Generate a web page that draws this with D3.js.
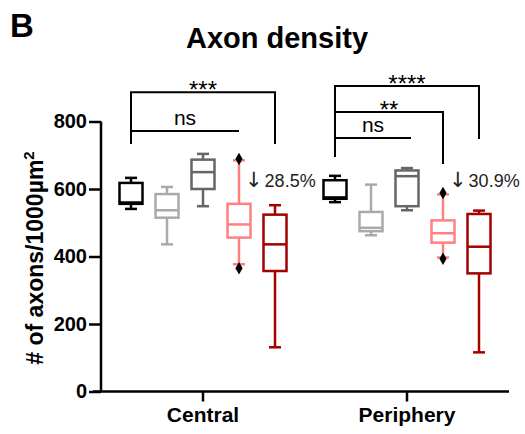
<!DOCTYPE html>
<html>
<head>
<meta charset="utf-8">
<script src="https://cdn.jsdelivr.net/npm/d3@7"></script>
<style>
  body { margin: 0; background: #fff; }
  text { font-family: "Liberation Sans", Arial, sans-serif; }
</style>
</head>
<body>
<svg id="chart" width="525" height="434"></svg>
<script>
// regions on the x axis, five conditions per region
const regions = ["Central", "Periphery"];
const conditions = ["c1", "c2", "c3", "c4", "c5"];
const colors = ["#000000", "#aaaaaa", "#666666", "#ff8080", "#a30000"];

// box values, [Central, Periphery] per condition
const whiskerLow  = [[541, 561], [436, 463], [549, 537], [377, 397], [131, 116]];
const q1          = [[556, 571], [515, 475], [600, 549], [456, 441], [357, 350]];
const median      = [[560, 575], [537, 485], [650, 638], [495, 469], [436, 429]];
const q3          = [[618, 626], [585, 532], [687, 655], [556, 507], [524, 526]];
const whiskerHigh = [[633, 639], [606, 613], [704, 662], [685, 584], [552, 536]];
// points drawn as diamonds (condition c4 only)
const outliers = [
  {region: "Central", cond: "c4", value: 689},
  {region: "Central", cond: "c4", value: 365},
  {region: "Periphery", cond: "c4", value: 588},
  {region: "Periphery", cond: "c4", value: 393}
];

const yTicks = [0, 200, 400, 600, 800];

// significance brackets: from c1 to another condition
const brackets = [
  {region: "Central", to: "c5", label: "***", level: 887, legFrom: 733, legTo: 733},
  {region: "Central", to: "c4", label: "ns", level: 772, legFrom: 733, legTo: null},
  {region: "Periphery", to: "c5", label: "****", level: 905, legFrom: 695, legTo: 748},
  {region: "Periphery", to: "c4", label: "**", level: 828, legFrom: 695, legTo: 674},
  {region: "Periphery", to: "c3", label: "ns", level: 751, legFrom: 695, legTo: null, extra: 4}
];
const changes = [
  {region: "Central", label: "28.5%", value: 606},
  {region: "Periphery", label: "30.9%", value: 606}
];

const svg = d3.select("#chart");

const x = d3.scaleBand().domain(regions).range([101, 509]);
const xi = d3.scaleBand().domain(conditions).range([-90, 90]);
const y = d3.scaleLinear().domain([0, 800]).range([391.5, 121.5]);
const boxW = 23;

function cx(region, cond) {
  return x(region) + x.bandwidth() / 2 + xi(cond) + xi.bandwidth() / 2;
}

// axes
const yAxis = svg.append("g")
  .attr("transform", "translate(101,0)")
  .call(d3.axisLeft(y).tickValues(yTicks).tickSize(12).tickPadding(2).tickFormat(d3.format("d")));
yAxis.select(".domain").attr("stroke-width", 2.5).attr("d", "M0," + y(800) + "V" + y(0));
yAxis.selectAll(".tick line").attr("stroke-width", 2.5);
yAxis.selectAll(".tick text")
  .style("font-family", "Liberation Sans, Arial, sans-serif")
  .style("font-size", "20px").style("font-weight", "bold").attr("fill", "#000");

const xAxis = svg.append("g")
  .attr("transform", "translate(0," + y(0) + ")")
  .call(d3.axisBottom(x).tickSize(10).tickPadding(6));
xAxis.select(".domain").attr("stroke-width", 2.5).attr("d", "M93,0H509");
xAxis.selectAll(".tick line").attr("stroke-width", 2.5);
xAxis.selectAll(".tick text")
  .style("font-family", "Liberation Sans, Arial, sans-serif")
  .style("font-size", "21px").style("font-weight", "bold").attr("fill", "#000");

// box plots
const boxes = [];
regions.forEach(function(r, ri) {
  conditions.forEach(function(c, ci) {
    boxes.push({region: r, cond: c, color: colors[ci],
      lo: whiskerLow[ci][ri], q1: q1[ci][ri], med: median[ci][ri],
      q3: q3[ci][ri], hi: whiskerHigh[ci][ri]});
  });
});

const g = svg.selectAll("g.box").data(boxes).enter().append("g")
  .attr("class", "box")
  .attr("stroke", function(d) { return d.color; })
  .attr("stroke-width", 2.5)
  .attr("fill", "none");

g.append("line")
  .attr("x1", function(d) { return cx(d.region, d.cond); })
  .attr("x2", function(d) { return cx(d.region, d.cond); })
  .attr("y1", function(d) { return y(d.hi); })
  .attr("y2", function(d) { return y(d.q3); });
g.append("line")
  .attr("x1", function(d) { return cx(d.region, d.cond); })
  .attr("x2", function(d) { return cx(d.region, d.cond); })
  .attr("y1", function(d) { return y(d.q1); })
  .attr("y2", function(d) { return y(d.lo); });
g.selectAll("line.cap").data(function(d) { return [d.hi, d.lo].map(function(v) { return {d: d, v: v}; }); })
  .enter().append("line").attr("class", "cap")
  .attr("x1", function(e) { return cx(e.d.region, e.d.cond) - 6; })
  .attr("x2", function(e) { return cx(e.d.region, e.d.cond) + 6; })
  .attr("y1", function(e) { return y(e.v); })
  .attr("y2", function(e) { return y(e.v); });
g.append("rect")
  .attr("x", function(d) { return cx(d.region, d.cond) - boxW / 2; })
  .attr("width", boxW)
  .attr("y", function(d) { return y(d.q3); })
  .attr("height", function(d) { return y(d.q1) - y(d.q3); })
  .attr("fill", "#fff");
g.append("line")
  .attr("x1", function(d) { return cx(d.region, d.cond) - boxW / 2; })
  .attr("x2", function(d) { return cx(d.region, d.cond) + boxW / 2; })
  .attr("y1", function(d) { return y(d.med); })
  .attr("y2", function(d) { return y(d.med); });

svg.selectAll("path.out").data(outliers).enter().append("path")
  .attr("class", "out")
  .attr("d", d3.symbol().type(d3.symbolDiamond).size(45))
  .attr("transform", function(d) { return "translate(" + cx(d.region, d.cond) + "," + y(d.value) + ")"; })
  .attr("fill", "#000");

// brackets
const br = svg.selectAll("g.bracket").data(brackets).enter().append("g").attr("class", "bracket");
br.append("path")
  .attr("fill", "none").attr("stroke", "#000").attr("stroke-width", 2)
  .attr("d", function(d) {
    const x0 = cx(d.region, "c1"), x1 = cx(d.region, d.to) + (d.extra || 0);
    let p = "M" + x0 + "," + y(d.legFrom) + "V" + y(d.level) + "H" + x1;
    if (d.legTo !== null) p += "V" + y(d.legTo);
    return p;
  });
br.append("text")
  .attr("x", function(d) { return (cx(d.region, "c1") + cx(d.region, d.to) + (d.extra || 0)) / 2; })
  .attr("y", function(d) { return d.label === "ns" ? y(d.level) - 6 : y(d.level) + 6; })
  .attr("text-anchor", "middle")
  .style("font-size", function(d) { return d.label === "ns" ? "21px" : "24px"; })
  .text(function(d) { return d.label; });

const chg = svg.selectAll("text.chg").data(changes).enter().append("text")
  .attr("class", "chg")
  .attr("x", function(d) { return cx(d.region, "c4") + 6; })
  .attr("y", function(d) { return y(d.value); })
  .attr("fill", "#222")
  .style("font-size", "18px");
chg.append("tspan")
  .style("font-family", "DejaVu Sans, sans-serif")
  .style("font-size", "21px")
  .text("\u2193");
chg.append("tspan")
  .attr("dx", 2)
  .text(function(d) { return d.label; });

// titles
svg.append("text").attr("x", 10).attr("y", 37)
  .style("font-size", "33px").style("font-weight", "bold").text("B");
svg.append("text").attr("x", 277).attr("y", 48).attr("text-anchor", "middle")
  .style("font-size", "29px").style("font-weight", "bold").text("Axon density");
svg.append("text")
  .attr("transform", "translate(43,258) rotate(-90)")
  .attr("text-anchor", "middle")
  .style("font-size", "23px").style("font-weight", "bold")
  .html('# of axons/1000\u00b5m<tspan dy="-9" style="font-size:15px">2</tspan>');
</script>
</body>
</html>
